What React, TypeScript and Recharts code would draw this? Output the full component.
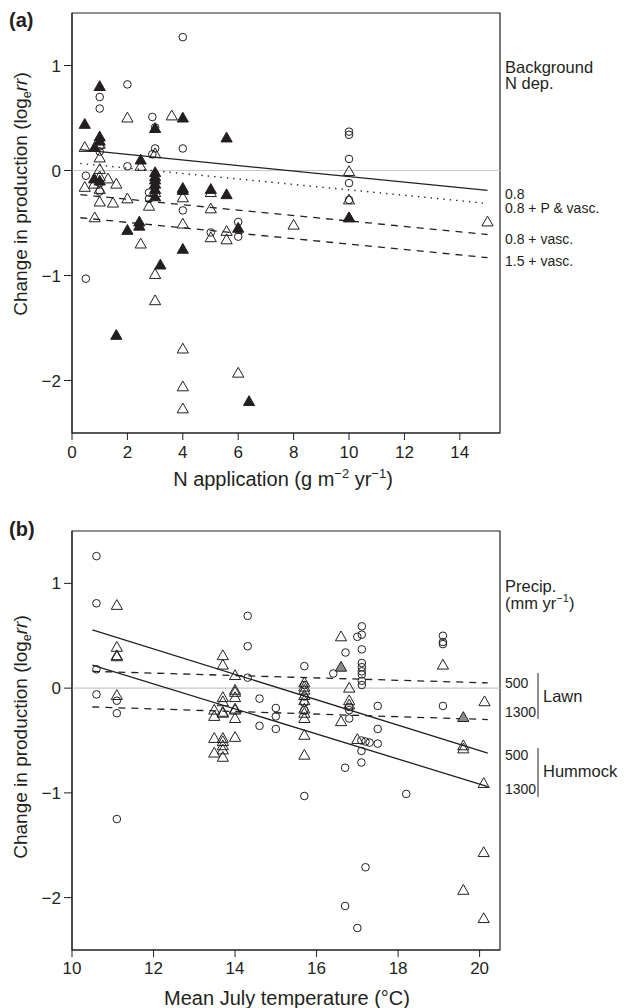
import React from "react";
import {
  ScatterChart, Scatter, XAxis, YAxis, ReferenceLine, ReferenceArea, Customized,
} from "recharts";

type Pt = { x: number; y: number };
const p = (x: number, y: number): Pt => ({ x, y });

const INK = "#231f20";
const FONT = "'Liberation Sans', Arial, Helvetica, sans-serif";

// ---- panel (a): N application ----
const xTicksA = [0, 2, 4, 6, 8, 10, 12, 14];
const yTicks = [-2, -1, 0, 1];

const circlesA: Pt[] = [
  p(4, 1.27), p(1, 0.7), p(1, 0.59), p(2, 0.82), p(2.9, 0.51), p(3, 0.41), p(1, 0.23),
  p(1, 0.18), p(3, 0.21), p(2.9, 0.155), p(4, 0.21), p(2, 0.04), p(0.5, -0.05),
  p(3, -0.04), p(3, -0.1), p(3, -0.16), p(2.78, -0.21), p(2.78, -0.27), p(1, -0.12),
  p(1, -0.2), p(4, -0.38), p(6, -0.49), p(6, -0.63), p(5.01, -0.59), p(0.5, -1.03),
  p(10, 0.37), p(10, 0.34), p(10, 0.11), p(10, -0.12), p(10, -0.28),
];

const openTriA: Pt[] = [
  p(2, 0.5), p(3.6, 0.52), p(0.46, 0.22), p(1, 0.25), p(3, 0.16), p(1, 0.12), p(2.48, 0.04),
  p(1, 0.01), p(1.3, -0.08), p(1.6, -0.13), p(0.46, -0.16), p(0.8, -0.13), p(1, -0.18),
  p(5.01, -0.21), p(4, -0.26), p(2, -0.27), p(1, -0.3), p(1.48, -0.31), p(2.78, -0.34),
  p(5.01, -0.365), p(0.82, -0.45), p(4, -0.51), p(5.58, -0.58), p(5.58, -0.66),
  p(5.01, -0.64), p(8, -0.52), p(2.48, -0.7), p(3, -0.99), p(3, -1.24), p(4, -1.7),
  p(6, -1.93), p(4, -2.06), p(4, -2.27), p(10, -0.01), p(10, -0.28), p(10, -0.45),
  p(15, -0.49), p(3, -0.21), p(1, -0.06),
];

const filledTriA: Pt[] = [
  p(1, 0.8), p(4, 0.5), p(0.46, 0.44), p(3, 0.4), p(5.58, 0.31), p(1, 0.32), p(1, 0.28),
  p(0.82, 0.22), p(2.48, 0.1), p(3, -0.02), p(3, -0.06), p(3, -0.09), p(3, -0.13),
  p(3, -0.18), p(3, -0.25), p(0.8, -0.08), p(1, -0.1), p(4, -0.17), p(4, -0.19),
  p(5.01, -0.18), p(5.58, -0.23), p(2.43, -0.49), p(2.43, -0.53), p(2, -0.57), p(6, -0.55),
  p(4, -0.75), p(3.19, -0.9), p(1.6, -1.57), p(6.39, -2.2), p(10, -0.45),
];

const fitA08: Pt[] = [p(0.3, 0.198), p(15, -0.19)];
const fitA08P: Pt[] = [p(0.3, 0.067), p(15, -0.314)];
const fitA08V: Pt[] = [p(0.3, -0.23), p(15, -0.61)];
const fitA15V: Pt[] = [p(0.3, -0.45), p(15, -0.83)];

// ---- panel (b): July temperature ----
const xTicksB = [10, 12, 14, 16, 18, 20];

const circlesB: Pt[] = [
  p(10.6, 1.26), p(10.6, 0.81), p(10.6, 0.18), p(10.6, -0.06), p(11.1, -0.12), p(11.1, -0.24),
  p(11.1, -1.25), p(14.31, 0.69), p(14.31, 0.4), p(14.31, 0.1), p(14.6, -0.1), p(14.6, -0.36),
  p(15, -0.19), p(15, -0.27), p(15, -0.39), p(15.7, 0.21), p(15.7, 0.03), p(15.7, -0.08),
  p(15.7, -0.14), p(15.7, -0.21), p(15.7, -1.03), p(16.41, 0.14), p(16.71, 0.34),
  p(16.7, -0.76), p(16.7, -2.08), p(16.8, -0.18), p(16.8, -0.21), p(16.8, -0.29),
  p(17, 0.49), p(17.11, 0.59), p(17.11, 0.51), p(17.11, 0.37), p(17.11, 0.24), p(17.11, 0.2),
  p(17.11, 0.16), p(17.11, 0.13), p(17.11, 0.07), p(17.11, 0.03), p(17.1, -0.5),
  p(17.3, -0.52), p(17.1, -0.6), p(17.1, -0.71), p(17.2, -0.51), p(17.5, -0.17),
  p(17.5, -0.39), p(17.5, -0.53), p(17.2, -1.71), p(17, -2.29), p(18.2, -1.01),
  p(19.1, 0.5), p(19.1, 0.44), p(19.1, 0.42), p(19.1, -0.17),
];

const openTriB: Pt[] = [
  p(11.1, 0.79), p(11.1, 0.39), p(11.1, 0.31), p(11.1, 0.3), p(11.1, -0.07), p(13.7, 0.31),
  p(13.7, 0.22), p(14, 0.12), p(14, -0.02), p(14, -0.04), p(14, -0.09), p(14, -0.2),
  p(14, -0.21), p(14, -0.29), p(14, -0.47), p(13.7, -0.09), p(13.7, -0.13), p(13.7, -0.23),
  p(13.7, -0.24), p(13.7, -0.48), p(13.7, -0.51), p(13.7, -0.55), p(13.7, -0.59),
  p(13.7, -0.66), p(13.49, -0.21), p(13.49, -0.27), p(13.49, -0.48), p(13.49, -0.62),
  p(15.7, 0.05), p(15.7, 0.01), p(15.7, -0.02), p(15.7, -0.07), p(15.7, -0.12),
  p(15.7, -0.2), p(15.7, -0.24), p(15.7, -0.29), p(15.7, -0.45), p(15.7, -0.64),
  p(16.6, 0.49), p(16.8, 0), p(16.8, -0.12), p(16.8, -0.16), p(16.6, -0.32), p(17, -0.49),
  p(19.1, 0.22), p(20.12, -0.13), p(19.6, -0.55), p(19.6, -0.58), p(20.1, -0.91),
  p(20.1, -1.57), p(19.6, -1.93), p(20.1, -2.2),
];

const shadedTriB: Pt[] = [p(16.6, 0.2), p(19.6, -0.28)];

const fitB500Hum: Pt[] = [p(10.5, 0.556), p(20.2, -0.62)];
const fitB1300Hum: Pt[] = [p(10.5, 0.22), p(20.2, -0.94)];
const fitB500Lawn: Pt[] = [p(10.5, 0.16), p(20.2, 0.05)];
const fitB1300Lawn: Pt[] = [p(10.5, -0.18), p(20.2, -0.3)];

const fmt = (v: number) => (v < 0 ? `\u2212${Math.abs(v)}` : `${v}`);

const Circle = (props: any) => (
  <circle cx={props.cx} cy={props.cy} r={3.8} fill="none" stroke={INK} strokeWidth={1} />
);

const triangle = (fill: string) => (props: any) => {
  const { cx, cy } = props;
  return (
    <path
      d={`M${cx},${cy - 5.8}L${cx + 5.6},${cy + 4}L${cx - 5.6},${cy + 4}Z`}
      fill={fill}
      stroke={INK}
      strokeWidth={1}
    />
  );
};

const seg = (pts: Pt[]) => pts.map((d) => ({ x: d.x, y: d.y }));

const tickStyle = { fontSize: 17, fill: INK };

function YTitle({ y }: { y: number }) {
  return (
    <text
      x={27}
      y={y}
      transform={`rotate(-90 27 ${y})`}
      textAnchor="middle"
      fontSize={19}
      fill={INK}
    >
      Change in production (log
      <tspan fontSize={12.5} dy={4}>e</tspan>
      <tspan dy={-4} fontStyle="italic">rr</tspan>)
    </text>
  );
}

function AnnotA() {
  return (
    <g fontFamily={FONT} fill={INK}>
      <text x={9} y={27} fontSize={20} fontWeight="bold">(a)</text>
      <YTitle y={194} />
      <text x={283} y={486} textAnchor="middle" fontSize={20}>
        N application (g m
        <tspan fontSize={13} dy={-8}>{"\u2212"}2</tspan>
        <tspan dy={8}> yr</tspan>
        <tspan fontSize={13} dy={-8}>{"\u2212"}1</tspan>
        <tspan dy={8}>)</tspan>
      </text>
      <text x={505} y={73} fontSize={16.5}>Background</text>
      <text x={505} y={89} fontSize={16.5}>N dep.</text>
      <text x={505} y={199} fontSize={14}>0.8</text>
      <text x={505} y={213} fontSize={14}>0.8 + P &amp; vasc.</text>
      <text x={505} y={244} fontSize={14}>0.8 + vasc.</text>
      <text x={505} y={266} fontSize={14}>1.5 + vasc.</text>
    </g>
  );
}

function AnnotB() {
  return (
    <g fontFamily={FONT} fill={INK}>
      <text x={9} y={36} fontSize={20} fontWeight="bold">(b)</text>
      <YTitle y={237} />
      <text x={287} y={505} textAnchor="middle" fontSize={20}>
        Mean July temperature ({"\u00b0"}C)
      </text>
      <text x={505} y={92} fontSize={16.5}>Precip.</text>
      <text x={505} y={109} fontSize={16.5}>
        (mm yr
        <tspan fontSize={11} dy={-7}>{"\u2212"}1</tspan>
        <tspan dy={7}>)</tspan>
      </text>
      <text x={505} y={188} fontSize={14}>500</text>
      <text x={505} y={217} fontSize={14}>1300</text>
      <line x1={538} x2={538} y1={173} y2={219} stroke={INK} strokeWidth={1} />
      <text x={543} y={202} fontSize={16.5}>Lawn</text>
      <text x={505} y={260} fontSize={14}>500</text>
      <text x={505} y={294} fontSize={14}>1300</text>
      <line x1={538} x2={538} y1={248} y2={297} stroke={INK} strokeWidth={1} />
      <text x={543} y={277} fontSize={16.5}>Hummock</text>
    </g>
  );
}

const axisCommon = {
  stroke: INK,
  axisLine: { stroke: INK },
  tickLine: { stroke: INK },
};

export default function App() {
  const xDomA: [number, number] = [0, 15.45];
  const xDomB: [number, number] = [10, 20.5];
  const yDom: [number, number] = [-2.5, 1.5];

  return (
    <div style={{ position: "absolute", left: 0, top: 0, width: 625, height: 1008, fontFamily: FONT, background: "#fff" }}>
      <div style={{ position: "absolute", left: 0, top: 0 }}>
        <ScatterChart width={625} height={500} margin={{ top: 13, right: 125, bottom: 17, left: 12 }}>
          <XAxis
            type="number" dataKey="x" domain={xDomA} ticks={xTicksA} allowDataOverflow
            height={50} tickSize={7} tickMargin={6} tick={tickStyle} {...axisCommon}
          />
          <YAxis
            type="number" dataKey="y" domain={yDom} ticks={yTicks} allowDataOverflow
            width={60} tickSize={8} tickMargin={3} tick={tickStyle} tickFormatter={fmt} {...axisCommon}
          />
          <ReferenceLine y={0} stroke="#c8c8c8" strokeWidth={1.2} />
          <ReferenceLine segment={seg(fitA08)} stroke={INK} strokeWidth={1.3} />
          <ReferenceLine segment={seg(fitA08P)} stroke={INK} strokeWidth={1.3} strokeDasharray="1.4 5" />
          <ReferenceLine segment={seg(fitA08V)} stroke={INK} strokeWidth={1.3} strokeDasharray="7 6" />
          <ReferenceLine segment={seg(fitA15V)} stroke={INK} strokeWidth={1.3} strokeDasharray="7 6" />
          <Scatter data={circlesA} shape={Circle} isAnimationActive={false} />
          <Scatter data={openTriA} shape={triangle("none")} isAnimationActive={false} />
          <Scatter data={filledTriA} shape={triangle(INK)} isAnimationActive={false} />
          <ReferenceArea x1={xDomA[0]} x2={xDomA[1]} y1={yDom[0]} y2={yDom[1]} fill="none" stroke={INK} strokeWidth={1.2} />
          <Customized component={AnnotA} />
        </ScatterChart>
      </div>
      <div style={{ position: "absolute", left: 0, top: 500 }}>
        <ScatterChart width={625} height={508} margin={{ top: 31, right: 125, bottom: 13, left: 12 }}>
          <XAxis
            type="number" dataKey="x" domain={xDomB} ticks={xTicksB} allowDataOverflow
            height={45} tickSize={7} tickMargin={5} tick={tickStyle} {...axisCommon}
          />
          <YAxis
            type="number" dataKey="y" domain={yDom} ticks={yTicks} allowDataOverflow
            width={60} tickSize={8} tickMargin={3} tick={tickStyle} tickFormatter={fmt} {...axisCommon}
          />
          <ReferenceLine y={0} stroke="#c8c8c8" strokeWidth={1.2} />
          <ReferenceLine segment={seg(fitB500Hum)} stroke={INK} strokeWidth={1.3} />
          <ReferenceLine segment={seg(fitB1300Hum)} stroke={INK} strokeWidth={1.3} />
          <ReferenceLine segment={seg(fitB500Lawn)} stroke={INK} strokeWidth={1.3} strokeDasharray="7 6" />
          <ReferenceLine segment={seg(fitB1300Lawn)} stroke={INK} strokeWidth={1.3} strokeDasharray="7 6" />
          <Scatter data={circlesB} shape={Circle} isAnimationActive={false} />
          <Scatter data={openTriB} shape={triangle("none")} isAnimationActive={false} />
          <Scatter data={shadedTriB} shape={triangle("#8a8a8a")} isAnimationActive={false} />
          <ReferenceArea x1={xDomB[0]} x2={xDomB[1]} y1={yDom[0]} y2={yDom[1]} fill="none" stroke={INK} strokeWidth={1.2} />
          <Customized component={AnnotB} />
        </ScatterChart>
      </div>
    </div>
  );
}
